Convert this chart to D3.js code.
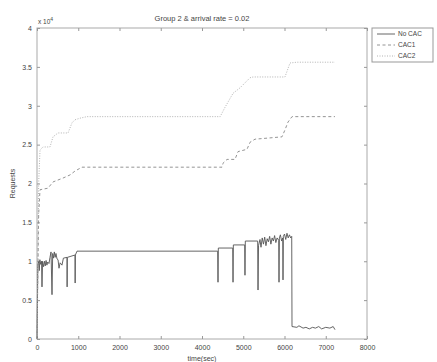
<!DOCTYPE html>
<html>
<head>
<meta charset="utf-8">
<title>Group 2 requests</title>
<style>
    body { margin: 0; background: #fff; }
    svg text { font-family: "Liberation Sans", Arial, sans-serif; fill: #444; }
</style>
</head>
<body>
<svg width="437" height="362"></svg>
<script src="https://cdnjs.cloudflare.com/ajax/libs/d3/7.8.5/d3.min.js"></script>
<script>

    // values in units of 10^4 requests, time in seconds
    var xTicks = [0, 1000, 2000, 3000, 4000, 5000, 6000, 7000, 8000];
    var yTicks = [0, 0.5, 1, 1.5, 2, 2.5, 3, 3.5, 4];
    var seriesNames = ["No CAC", "CAC1", "CAC2"];

    var noCac = [
        [0, 0], [20, 0.95], [40, 1.0], [55, 0.88], [70, 1.02], [90, 0.96], [110, 1.0], [121, 0.67],
        [135, 1.0], [160, 0.93], [180, 1.0], [200, 0.94], [220, 1.01], [240, 0.95], [260, 0.99],
        [290, 0.97], [315, 1.05], [340, 1.12], [364, 0.57], [380, 1.1], [400, 1.04], [420, 1.12],
        [440, 1.05], [460, 1.1], [485, 1.03], [510, 1.02], [533, 0.91], [560, 0.98], [606, 0.95],
        [640, 1.04], [727, 1.05], [730, 0.67], [735, 1.05], [921, 1.08], [925, 0.72], [930, 1.08],
        [970, 1.13], [4380, 1.13], [4388, 0.73], [4396, 1.17], [4745, 1.17], [4752, 0.73],
        [4760, 1.21], [5035, 1.21], [5042, 0.82], [5050, 1.26], [5350, 1.26], [5358, 0.63],
        [5370, 1.2], [5406, 1.28], [5430, 1.18], [5460, 1.3], [5490, 1.22], [5520, 1.31],
        [5550, 1.2], [5580, 1.29], [5610, 1.25], [5640, 1.32], [5670, 1.22], [5700, 1.3],
        [5730, 1.26], [5760, 1.33], [5790, 1.24], [5820, 1.3], [5860, 1.27], [5867, 0.73],
        [5875, 1.3], [5900, 1.34], [5930, 1.26], [5957, 1.3], [5964, 0.76], [5972, 1.32],
        [6000, 1.35], [6030, 1.28], [6060, 1.36], [6090, 1.3], [6120, 1.34], [6150, 1.3],
        [6175, 1.32], [6182, 0.16], [6300, 0.15], [6350, 0.17], [6450, 0.14], [6520, 0.15],
        [6600, 0.13], [6680, 0.15], [6750, 0.14], [6830, 0.16], [6900, 0.13], [7000, 0.15],
        [7100, 0.14], [7180, 0.16], [7224, 0.12]
    ];

    var cac1 = [
        [0, 0], [40, 1.6], [73, 1.92], [267, 1.94], [388, 2.02], [630, 2.07], [800, 2.11],
        [921, 2.16], [1091, 2.21], [4485, 2.21], [4509, 2.26], [4606, 2.31], [4800, 2.31],
        [4873, 2.41], [5091, 2.44], [5164, 2.53], [5285, 2.57], [5939, 2.6], [6012, 2.69],
        [6085, 2.79], [6182, 2.86], [7224, 2.86]
    ];

    var cac2 = [
        [0, 0], [40, 2.0], [73, 2.43], [145, 2.47], [315, 2.47], [388, 2.6], [509, 2.65],
        [752, 2.65], [848, 2.78], [921, 2.82], [1042, 2.84], [1212, 2.86], [4440, 2.86],
        [4558, 2.98], [4752, 3.16], [4921, 3.23], [5164, 3.36], [5236, 3.37], [6012, 3.37],
        [6133, 3.55], [6303, 3.56], [7224, 3.56]
    ];

    var svg = d3.select("svg"),
        margin = {top: 28, right: 70, bottom: 23, left: 37},
        width = +svg.attr("width") - margin.left - margin.right,
        height = +svg.attr("height") - margin.top - margin.bottom,
        g = svg.append("g").attr("transform", "translate(" + margin.left + "," + margin.top + ")");

    var x = d3.scaleLinear().domain([0, 8000]).range([0, width]);
    var y = d3.scaleLinear().domain([0, 4]).range([height, 0]);

    var styles = [
        {data: noCac, color: "#555", dash: null, w: 0.9},
        {data: cac1, color: "#888", dash: "3,2.5", w: 0.9},
        {data: cac2, color: "#aaa", dash: "1,1.5", w: 0.9}
    ];

    var line = d3.line()
        .x(function (d) { return x(d[0]); })
        .y(function (d) { return y(d[1]); });

    // box
    g.append("rect")
        .attr("width", width)
        .attr("height", height)
        .attr("fill", "none")
        .attr("stroke", "#aaa");

    // axes, ticks inward like matlab
    var axisStyle = function (sel) {
        sel.select(".domain").remove();
        sel.selectAll("line").attr("stroke", "#999");
        sel.selectAll("text").attr("font-size", 7).attr("fill", "#555");
    };

    g.append("g")
        .attr("transform", "translate(0," + height + ")")
        .call(d3.axisBottom(x).tickValues(xTicks).tickSize(-3).tickPadding(6).tickFormat(d3.format("d")))
        .call(axisStyle);

    g.append("g")
        .call(d3.axisLeft(y).tickValues(yTicks).tickSize(-3).tickPadding(5).tickFormat(function (d) { return d; }))
        .call(axisStyle);

    g.append("g")
        .call(d3.axisTop(x).tickValues(xTicks).tickSize(-3).tickFormat(""))
        .call(axisStyle);

    g.append("g")
        .attr("transform", "translate(" + width + ",0)")
        .call(d3.axisRight(y).tickValues(yTicks).tickSize(-3).tickFormat(""))
        .call(axisStyle);

    g.selectAll(".series")
        .data(styles)
        .enter().append("path")
        .attr("class", "series")
        .attr("d", function (d) { return line(d.data); })
        .attr("fill", "none")
        .attr("stroke", function (d) { return d.color; })
        .attr("stroke-width", function (d) { return d.w; })
        .attr("stroke-dasharray", function (d) { return d.dash; });

    // exponent label
    var ex = svg.append("text")
        .attr("x", 38)
        .attr("y", 24)
        .attr("font-size", 6.5);
    ex.append("tspan").text("x 10");
    ex.append("tspan").attr("dy", -3).attr("font-size", 5).text("4");

    svg.append("text")
        .attr("x", margin.left + width / 2)
        .attr("y", 21)
        .attr("text-anchor", "middle")
        .attr("font-size", 7.5)
        .text("Group 2 & arrival rate = 0.02");

    svg.append("text")
        .attr("transform", "translate(15," + (margin.top + height / 2) + ") rotate(-90)")
        .attr("text-anchor", "middle")
        .attr("font-size", 7)
        .text("Requests");

    svg.append("text")
        .attr("x", margin.left + width / 2)
        .attr("y", 361)
        .attr("text-anchor", "middle")
        .attr("font-size", 7)
        .text("time(sec)");

    // legend
    var legend = svg.append("g").attr("transform", "translate(372,28)");
    legend.append("rect")
        .attr("width", 61)
        .attr("height", 34)
        .attr("fill", "#fff")
        .attr("stroke", "#999");

    var items = legend.selectAll(".item")
        .data(styles)
        .enter().append("g")
        .attr("class", "item")
        .attr("transform", function (d, i) { return "translate(0," + (6 + i * 11) + ")"; });

    items.append("line")
        .attr("x1", 5)
        .attr("x2", 23)
        .attr("stroke", function (d) { return d.color; })
        .attr("stroke-width", 0.9)
        .attr("stroke-dasharray", function (d) { return d.dash; });

    items.append("text")
        .attr("x", 26)
        .attr("dy", "0.35em")
        .attr("font-size", 6.5)
        .text(function (d, i) { return seriesNames[i]; });

</script>
</body>
</html>
